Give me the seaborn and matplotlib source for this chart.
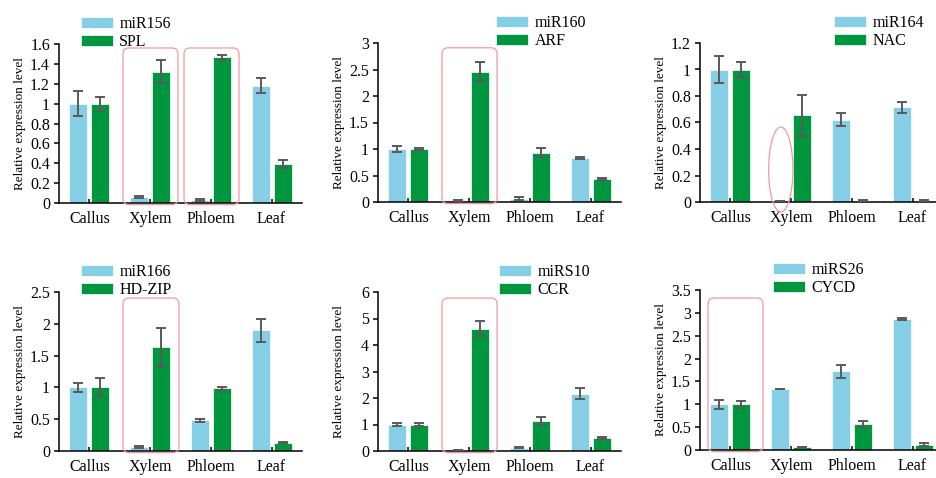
import numpy as np
import pandas as pd
import seaborn as sns
import matplotlib.pyplot as plt
from matplotlib.patches import FancyBboxPatch, Ellipse
from matplotlib.ticker import MultipleLocator, FormatStrFormatter

plt.rcParams['font.family'] = ['Liberation Serif', 'DejaVu Serif']

tissues = ['Callus', 'Xylem', 'Phloem', 'Leaf']

mir156 = [1.00, 0.06, 0.035, 1.18]
mir156_err = [0.125, 0.012, 0.010, 0.075]
spl = [1.00, 1.32, 1.465, 0.395]
spl_err = [0.070, 0.115, 0.025, 0.040]

mir160 = [1.00, 0.03, 0.06, 0.83]
mir160_err = [0.050, 0.010, 0.025, 0.015]
arf = [1.00, 2.46, 0.93, 0.44]
arf_err = [0.015, 0.180, 0.090, 0.020]

mir164 = [1.00, 0.008, 0.62, 0.715]
mir164_err = [0.100, 0.003, 0.050, 0.040]
nac = [1.00, 0.655, 0.010, 0.010]
nac_err = [0.053, 0.155, 0.004, 0.004]

mir166 = [1.00, 0.065, 0.485, 1.90]
mir166_err = [0.075, 0.012, 0.025, 0.180]
hdzip = [1.00, 1.63, 0.985, 0.13]
hdzip_err = [0.140, 0.305, 0.020, 0.008]

mirs10 = [1.00, 0.04, 0.12, 2.16]
mirs10_err = [0.070, 0.010, 0.020, 0.200]
ccr = [1.00, 4.62, 1.14, 0.50]
ccr_err = [0.040, 0.280, 0.140, 0.030]

mirs26 = [1.00, 1.335, 1.72, 2.865]
mirs26_err = [0.100, 0.008, 0.140, 0.020]
cycd = [1.00, 0.065, 0.565, 0.12]
cycd_err = [0.080, 0.010, 0.065, 0.040]

blue = '#86cde6'
green = '#009640'
red = '#f29a9a'

W, H = 936, 478
fig = plt.figure(figsize=(W / 100, H / 100), dpi=100)

# (names, values, errors, ymax, step, axes box in px [left, top, bottom], legend x, highlight)
panels = [
    (('miR156', 'SPL'), (mir156, spl), (mir156_err, spl_err), 1.6, 0.2,
     (59, 44, 203), 0.09, [('box', 0.553, 1.459, 0.975), ('box', 1.558, 2.463, 0.975)]),
    (('miR160', 'ARF'), (mir160, arf), (mir160_err, arf_err), 3, 0.5,
     (378, 43, 202), 0.486, [('box', 0.553, 1.46, 0.97)]),
    (('miR164', 'NAC'), (mir164, nac), (mir164_err, nac_err), 1.2, 0.2,
     (700, 43, 202), 0.552, [('ellipse', 0.83, 0.4, 0.204, 0.535)]),
    (('miR166', 'HD-ZIP'), (mir166, hdzip), (mir166_err, hdzip_err), 2.5, 0.5,
     (59, 292, 451), 0.09, [('box', 0.553, 1.475, 0.962)]),
    (('miRS10', 'CCR'), (mirs10, ccr), (mirs10_err, ccr_err), 6, 1,
     (378, 292, 451), 0.498, [('box', 0.553, 1.46, 0.962)]),
    (('miRS26', 'CYCD'), (mirs26, cycd), (mirs26_err, cycd_err), 3.5, 0.5,
     (700, 290, 450), 0.30, [('box', -0.368, 0.537, 0.95)]),
]

axw = 243
for names, vals, errs, ymax, step, (left, top, bottom), legx, marks in panels:
    axh = bottom - top
    ax = fig.add_axes([left / W, (H - bottom) / H, axw / W, axh / H])
    df = pd.DataFrame({
        'tissue': tissues * 2,
        'gene': [names[0]] * 4 + [names[1]] * 4,
        'level': list(vals[0]) + list(vals[1]),
    })
    sns.barplot(data=df, x='tissue', y='level', hue='gene', order=tissues,
                hue_order=list(names), palette=[blue, green], width=0.72, gap=0.18,
                errorbar=None, edgecolor='white', linewidth=0.5, saturation=1,
                legend=False, ax=ax)
    for cont, err in zip(ax.containers, errs):
        xs = [p.get_x() + p.get_width() / 2 for p in cont.patches]
        hs = [p.get_height() for p in cont.patches]
        ax.errorbar(xs, hs, yerr=err, fmt='none', ecolor='#5a5a5a',
                    elinewidth=1.4, capsize=3.5, capthick=1.4, zorder=3)

    ax.set_xlim(-0.5, 3.5)
    ax.set_ylim(0, ymax)
    ax.yaxis.set_major_locator(MultipleLocator(step))
    ax.yaxis.set_major_formatter(FormatStrFormatter('%g'))
    for s in ['top', 'right']:
        ax.spines[s].set_visible(False)
    for s in ['left', 'bottom']:
        ax.spines[s].set_linewidth(1.1)
    ax.tick_params(axis='y', direction='out', length=3.5, width=1.1, labelsize=11.5, pad=3)
    ax.tick_params(axis='x', direction='in', length=3, width=1.1, labelsize=11.5, pad=6)
    ax.set_xlabel('')
    ax.set_ylabel('Relative expression level', fontsize=9.5)
    ax.yaxis.set_label_coords(-33 / axw, 0.5)

    ax.legend(ax.containers, names, loc='upper left',
              bbox_to_anchor=(legx, 1 + 28 / axh), frameon=False, fontsize=11.5,
              handlelength=2.0, handleheight=0.65, handletextpad=0.4,
              labelspacing=0.12, borderpad=0, borderaxespad=0)

    for m in marks:
        if m[0] == 'box':
            x0, x1, ytop = m[1], m[2], m[3]
            fx0 = (x0 + 0.5) / 4
            fx1 = (x1 + 0.5) / 4
            bb = FancyBboxPatch((fx0, -0.01), fx1 - fx0, ytop + 0.01,
                                boxstyle='round,pad=0,rounding_size=0.025',
                                mutation_aspect=axw / axh, transform=ax.transAxes,
                                fill=False, edgecolor=red, linewidth=0.9,
                                clip_on=False, zorder=4)
            ax.add_patch(bb)
        else:
            cx, w, cy, h = m[1], m[2], m[3], m[4]
            el = Ellipse(((cx + 0.5) / 4, cy), w / 4, h, transform=ax.transAxes,
                         fill=False, edgecolor=red, linewidth=0.9,
                         clip_on=False, zorder=4)
            ax.add_patch(el)

fig.savefig('out.png', dpi=100)
